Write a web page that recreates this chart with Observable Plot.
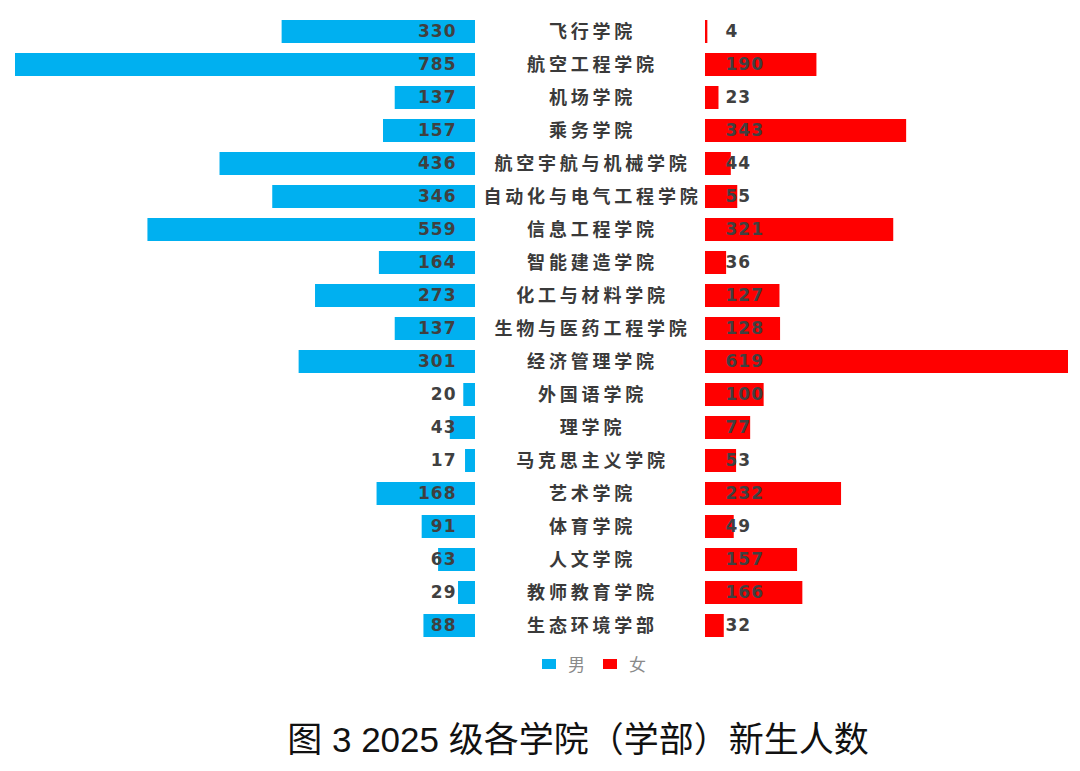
<!DOCTYPE html>
<html>
<head>
<meta charset="utf-8">
<script src="https://cdn.jsdelivr.net/npm/d3@7"></script>
<script src="https://cdn.jsdelivr.net/npm/@observablehq/plot@0.6"></script>
<style>
  html, body { margin: 0; padding: 0; background: #fff; }
  #wrap { position: relative; width: 1080px; height: 771px; }
  #row { display: flex; flex-direction: row; position: absolute; left: 0; top: 0; }
  #legend { position: absolute; top: 651px; left: 0; width: 1080px; display: flex; justify-content: center; align-items: center;
    font-family: "Noto Sans CJK SC", sans-serif; font-size: 17px; color: #8a8a8a; padding-left: 108px; box-sizing: border-box; }
  .sw { display: inline-block; width: 14px; height: 10px; margin-right: 12px; }
  .lg { display: inline-flex; align-items: center; margin: 0 9px; }
  #title { position: absolute; top: 711px; left: 0; width: 1080px; text-align: center; padding-left: 76px; box-sizing: border-box;
    font-family: "Liberation Sans", "Noto Sans CJK SC", sans-serif; font-size: 35px; color: #111; }
</style>
</head>
<body>
<div id="wrap">
  <div id="row"></div>
  <div id="legend"></div>
  <div id="title">图 3 2025 级各学院（学部）新生人数</div>
</div>
<script>
const colleges = ["飞行学院","航空工程学院","机场学院","乘务学院","航空宇航与机械学院","自动化与电气工程学院","信息工程学院","智能建造学院","化工与材料学院","生物与医药工程学院","经济管理学院","外国语学院","理学院","马克思主义学院","艺术学院","体育学院","人文学院","教师教育学院","生态环境学部"];
const male =   [330,785,137,157,436,346,559,164,273,137,301,20,43,17,168,91,63,29,88];
const female = [4,190,23,343,44,55,321,36,127,128,619,100,77,53,232,49,157,166,32];
const seriesNames = ["男","女"];
const colors = ["#00b0f0","#ff0000"];

const data = colleges.map((c, i) => ({college: c, male: male[i], female: female[i]}));

const H = 650, MT = 9.5, MB = 1.7;
const yOpt = {domain: colleges, paddingInner: 0.3, paddingOuter: 0.3, axis: null};
const valueFont = {fontFamily: "DejaVu Sans", fontWeight: "bold", fontSize: 17, fill: "#404040"};

const left = Plot.plot({
  width: 475, height: H, marginTop: MT, marginBottom: MB, marginLeft: 15, marginRight: 0,
  x: {domain: [0, d3.max(male)], reverse: true, axis: null},
  y: yOpt,
  marks: [
    Plot.barX(data, {x: "male", y: "college", fill: colors[0]}),
    Plot.text(data, {y: "college", text: d => String(d.male), frameAnchor: "right", textAnchor: "end", dx: -19, ...valueFont})
  ]
});

const mid = Plot.plot({
  width: 230, height: H, marginTop: MT, marginBottom: MB, marginLeft: 0, marginRight: 0,
  y: yOpt,
  marks: [
    Plot.text(data, {y: "college", text: "college", frameAnchor: "middle", dx: 2,
      fontFamily: "Noto Sans CJK SC", fontWeight: "bold", fontSize: 18, fill: "#3a3a3a"})
  ]
});

const right = Plot.plot({
  width: 375, height: H, marginTop: MT, marginBottom: MB, marginLeft: 0, marginRight: 12,
  x: {domain: [0, d3.max(female)], axis: null},
  y: yOpt,
  marks: [
    Plot.barX(data, {x: "female", y: "college", fill: colors[1]}),
    Plot.text(data, {y: "college", text: d => String(d.female), frameAnchor: "left", textAnchor: "start", dx: 20, ...valueFont})
  ]
});

d3.select(mid).selectAll("text").style("letter-spacing", "3.8px");
d3.select(left).selectAll("text").style("letter-spacing", "1px");
d3.select(right).selectAll("text").style("letter-spacing", "1px");

const row = document.getElementById("row");
row.append(left, mid, right);

const legend = document.getElementById("legend");
seriesNames.forEach((n, i) => {
  const s = document.createElement("span");
  s.className = "lg";
  s.innerHTML = `<span class="sw" style="background:${colors[i]}"></span>${n}`;
  legend.append(s);
});
</script>
</body>
</html>
